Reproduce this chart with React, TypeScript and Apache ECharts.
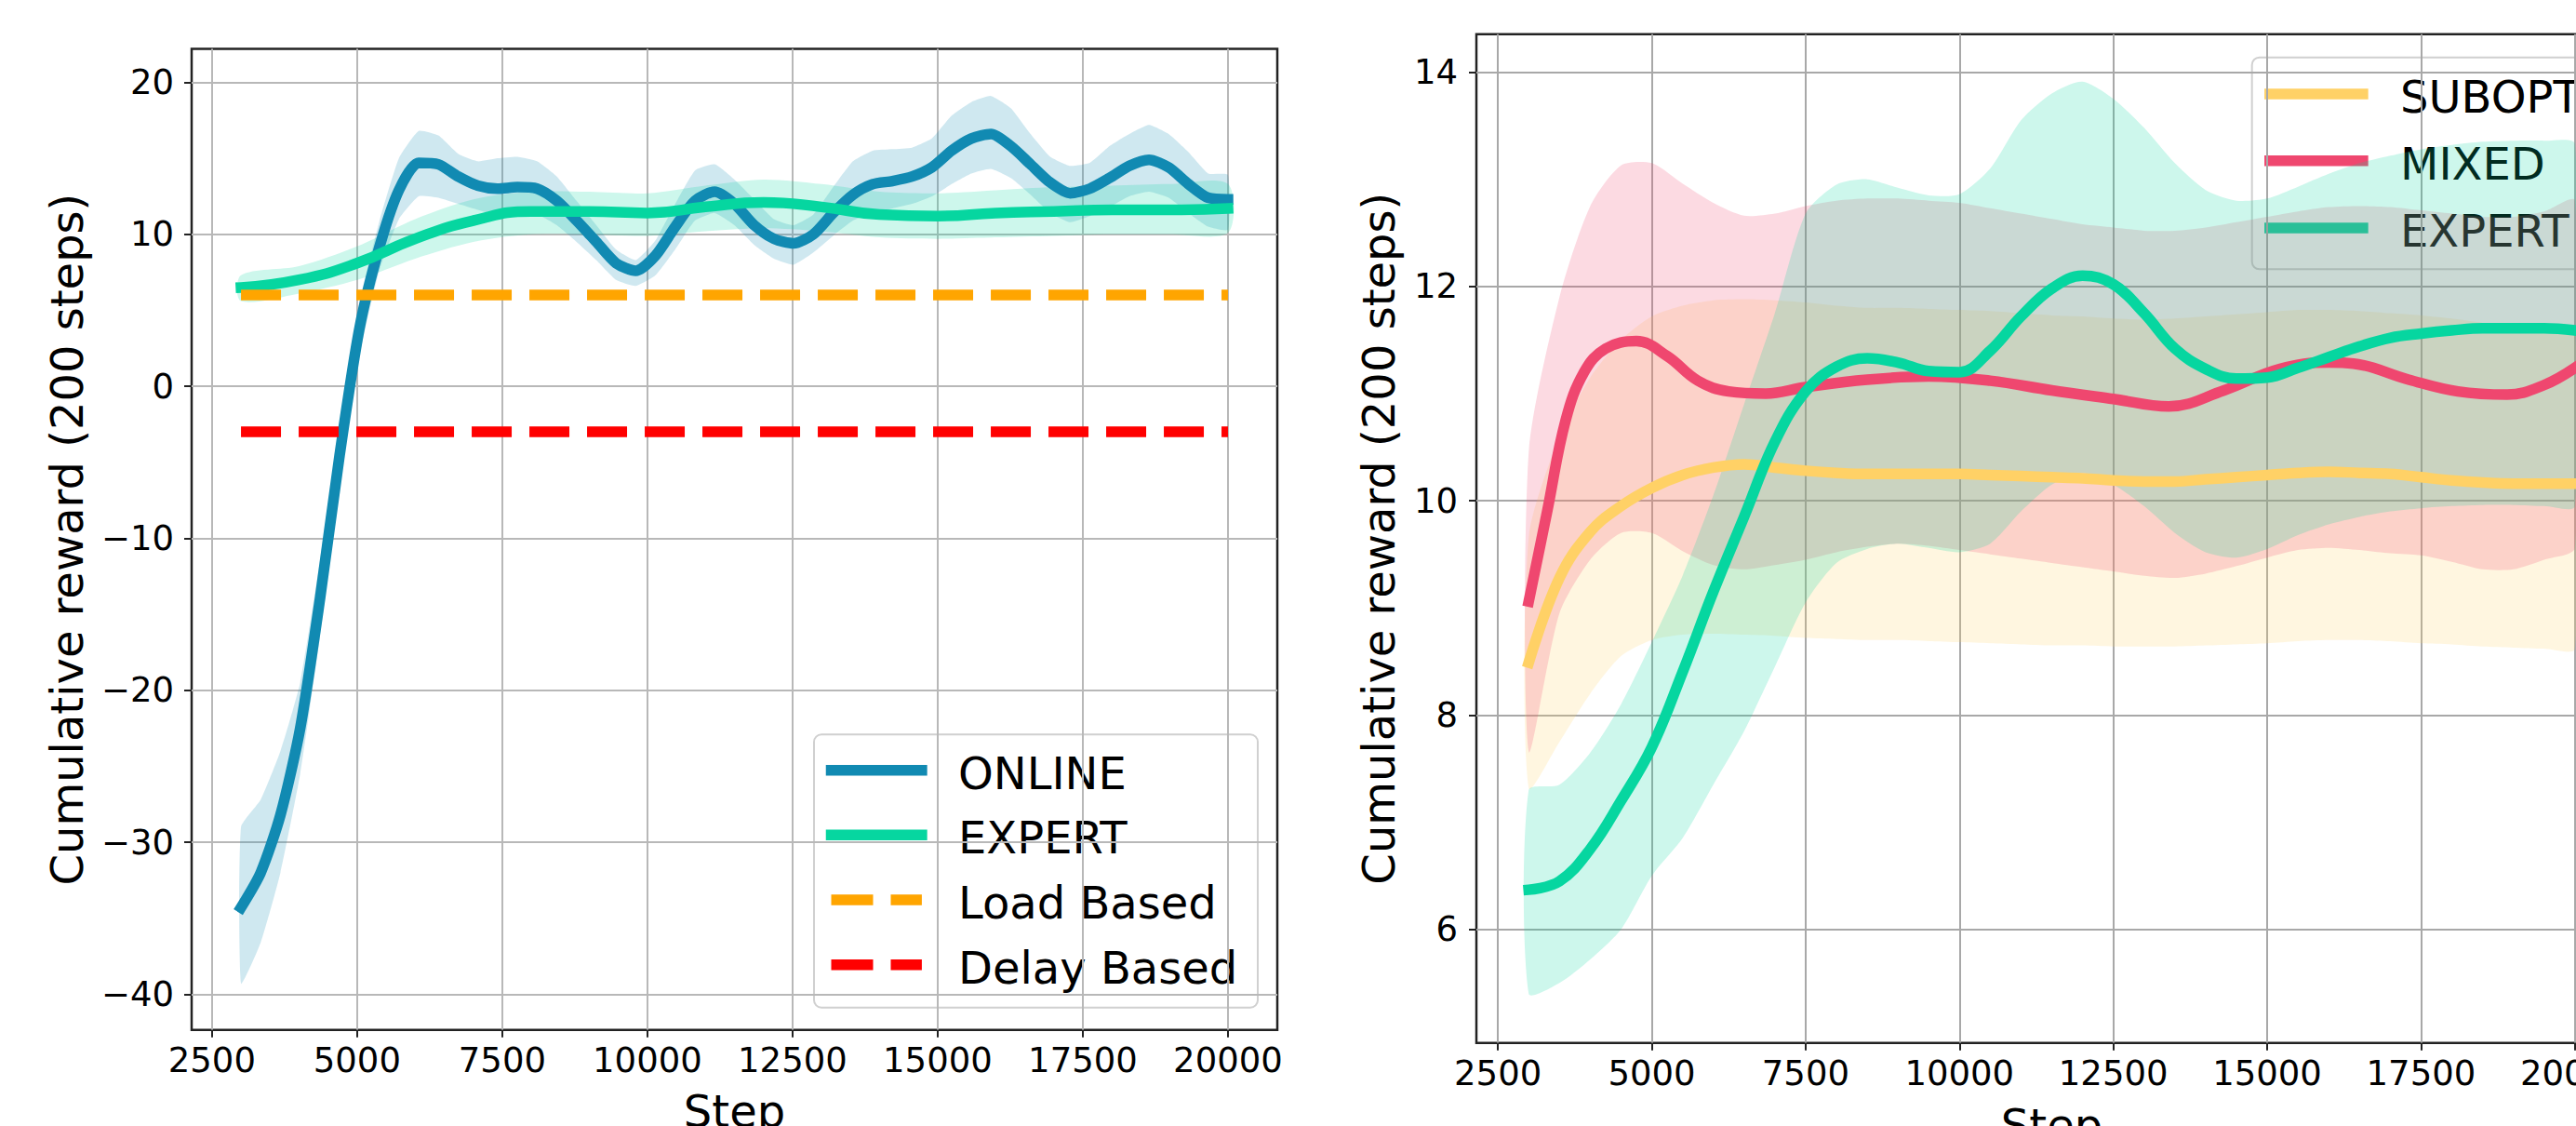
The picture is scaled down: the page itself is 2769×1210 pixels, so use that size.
import React, { useEffect, useRef } from "react";
import * as echarts from "echarts";

// ---------- LEFT PANEL DATA ----------
const onlineSteps = [3000, 3340, 3680, 4020, 4360, 4700, 5040, 5380, 5720, 6060, 6400, 6740, 7080, 7420, 7760, 8100, 8440, 8780, 9120, 9460, 9800, 10140, 10480, 10820, 11160, 11500, 11840, 12180, 12520, 12860, 13200, 13540, 13880, 14220, 14560, 14900, 15240, 15580, 15920, 16260, 16600, 16940, 17280, 17620, 17960, 18300, 18640, 18980, 19320, 19660, 20000];
const onlineMean = [-34.3, -32.0, -28.2, -22.5, -14.0, -4.5, 3.8, 9.1, 12.9, 14.7, 14.6, 13.8, 13.2, 13.0, 13.1, 13.0, 12.2, 10.9, 9.5, 8.1, 7.6, 8.6, 10.5, 12.2, 12.8, 12.0, 10.6, 9.7, 9.4, 10.0, 11.4, 12.6, 13.3, 13.5, 13.8, 14.4, 15.5, 16.3, 16.6, 15.8, 14.6, 13.4, 12.7, 13.0, 13.7, 14.5, 14.9, 14.4, 13.3, 12.4, 12.3];
const onlineHigh = [-29.0, -27.2, -24.0, -19.5, -11.5, -2.5, 5.5, 10.8, 15.0, 16.8, 16.5, 15.3, 14.8, 15.0, 15.1, 14.8, 13.8, 12.2, 10.6, 9.0, 8.3, 9.6, 12.0, 14.2, 14.6, 13.6, 12.3, 11.0, 10.6, 11.3, 13.1, 14.8, 15.5, 15.6, 15.7, 16.3, 17.8, 18.7, 19.1, 18.3, 16.6, 15.1, 14.5, 14.7, 15.8, 16.6, 17.2, 16.6, 15.4, 14.0, 13.9];
const onlineLow = [-39.3, -36.6, -32.0, -25.5, -16.5, -6.5, 2.0, 7.6, 11.0, 12.5, 12.4, 12.0, 11.6, 11.2, 11.2, 11.3, 10.6, 9.5, 8.3, 7.0, 6.6, 7.3, 9.0, 10.9, 11.4, 10.6, 9.3, 8.4, 8.0, 8.8, 9.9, 10.9, 11.4, 11.7, 12.0, 12.5, 13.3, 14.0, 14.3, 13.7, 12.6, 11.4, 10.8, 11.2, 11.8, 12.5, 12.8, 12.4, 11.4, 10.5, 10.3];

const expertLSteps = [3000, 4000, 5000, 6000, 7000, 8000, 9000, 10000, 11000, 12000, 13000, 14000, 15000, 16000, 17000, 18000, 19000, 20000];
const expertLMean = [6.5, 7.0, 8.1, 9.7, 10.9, 11.5, 11.5, 11.4, 11.8, 12.1, 11.8, 11.3, 11.2, 11.4, 11.5, 11.6, 11.6, 11.7];
const expertLHigh = [7.3, 7.9, 9.2, 11.0, 12.3, 12.8, 12.8, 12.7, 13.2, 13.6, 13.3, 12.8, 12.7, 12.9, 13.1, 13.2, 13.3, 13.3];
const expertLLow = [5.6, 6.1, 7.0, 8.4, 9.5, 10.0, 10.0, 9.9, 10.2, 10.4, 10.2, 9.8, 9.7, 9.8, 9.9, 10.0, 10.0, 10.1];

const baselineSteps = [3000, 20000];
const loadBased = [6, 6];
const delayBased = [-3, -3];

const leftXTicks = [2500, 5000, 7500, 10000, 12500, 15000, 17500, 20000];
const leftYTicks = [-40, -30, -20, -10, 0, 10, 20];

// ---------- RIGHT PANEL DATA ----------
const rSteps = [3000, 3500, 4000, 4500, 5000, 5500, 6000, 6500, 7000, 7500, 8000, 8500, 9000, 9500, 10000, 10500, 11000, 11500, 12000, 12500, 13000, 13500, 14000, 14500, 15000, 15500, 16000, 16500, 17000, 17500, 18000, 18500, 19000, 19500, 20000];

const subMean = [8.49, 9.28, 9.71, 9.95, 10.12, 10.24, 10.31, 10.34, 10.31, 10.28, 10.26, 10.25, 10.25, 10.25, 10.25, 10.24, 10.23, 10.22, 10.21, 10.19, 10.18, 10.18, 10.2, 10.22, 10.24, 10.26, 10.27, 10.26, 10.25, 10.22, 10.19, 10.17, 10.16, 10.16, 10.16];
const subHigh = [9.66, 10.6, 11.15, 11.5, 11.72, 11.82, 11.87, 11.88, 11.87, 11.85, 11.82, 11.8, 11.8, 11.79, 11.78, 11.77, 11.75, 11.73, 11.72, 11.7, 11.69, 11.7, 11.72, 11.74, 11.76, 11.78, 11.78, 11.77, 11.75, 11.73, 11.7, 11.66, 11.62, 11.59, 11.56];
const subLow = [7.32, 7.75, 8.2, 8.55, 8.7, 8.75, 8.76, 8.75, 8.74, 8.72, 8.71, 8.7, 8.7, 8.69, 8.68, 8.67, 8.66, 8.65, 8.65, 8.64, 8.64, 8.64, 8.65, 8.66, 8.67, 8.69, 8.7, 8.7, 8.69, 8.67, 8.66, 8.64, 8.63, 8.62, 8.62];

const mixSteps = [3000, 3300, 3600, 3900, 4250, 4750, 5250, 5750, 6250, 6850, 7500, 8500, 9500, 10500, 11500, 12500, 13400, 14300, 15200, 16000, 16400, 17300, 18100, 18900, 19500, 20000];
const mixMean = [9.06, 9.9, 10.75, 11.2, 11.42, 11.49, 11.35, 11.12, 11.02, 11.0, 11.06, 11.13, 11.16, 11.12, 11.03, 10.95, 10.88, 11.03, 11.23, 11.29, 11.28, 11.13, 11.02, 10.99, 11.08, 11.24];
const mixHigh = [10.45, 11.9, 12.75, 13.13, 13.15, 12.96, 12.78, 12.66, 12.68, 12.75, 12.8, 12.82, 12.82, 12.8, 12.78, 12.73, 12.68, 12.63, 12.58, 12.55, 12.52, 12.52, 12.55, 12.6, 12.65, 12.7, 12.74, 12.75, 12.74, 12.71, 12.68, 12.65, 12.65, 12.7, 12.8];
const mixLow = [7.66, 8.95, 9.45, 9.7, 9.7, 9.53, 9.4, 9.36, 9.4, 9.45, 9.52, 9.57, 9.6, 9.58, 9.54, 9.5, 9.46, 9.42, 9.38, 9.34, 9.3, 9.28, 9.32, 9.39, 9.47, 9.54, 9.56, 9.54, 9.51, 9.49, 9.43, 9.36, 9.36, 9.45, 9.56];

const expRMean = [6.37, 6.45, 6.75, 7.2, 7.7, 8.4, 9.15, 9.85, 10.55, 11.02, 11.25, 11.33, 11.29, 11.21, 11.2, 11.4, 11.72, 11.98, 12.1, 12.02, 11.75, 11.42, 11.23, 11.14, 11.15, 11.24, 11.34, 11.44, 11.52, 11.56, 11.59, 11.61, 11.61, 11.61, 11.59];
const expRHigh = [7.3, 7.35, 7.65, 8.1, 8.68, 9.3, 10.05, 10.9, 11.75, 12.68, 12.95, 13.0, 12.92, 12.85, 12.86, 13.1, 13.55, 13.8, 13.91, 13.75, 13.48, 13.15, 12.9, 12.8, 12.82, 12.93, 13.05, 13.15, 13.22, 13.28, 13.32, 13.35, 13.36, 13.36, 13.33];
const expRLow = [5.4, 5.5, 5.72, 6.0, 6.5, 6.85, 7.35, 7.85, 8.45, 9.05, 9.42, 9.55, 9.6, 9.56, 9.52, 9.6, 9.9, 10.15, 10.26, 10.15, 9.95, 9.7, 9.52, 9.47, 9.55, 9.68, 9.78, 9.85, 9.9, 9.93, 9.95, 9.96, 9.96, 9.95, 9.95];

const rightXTicks = [2500, 5000, 7500, 10000, 12500, 15000, 17500, 20000];
const rightYTicks = [6, 8, 10, 12, 14];

const leftLegend = ["ONLINE", "EXPERT", "Load Based", "Delay Based"];
const rightLegend = ["SUBOPTIMAL", "MIXED", "EXPERT"];

// ---------- COLOURS ----------
const C_ONLINE = "#118AB2";
const C_EXPERT = "#06D6A0";
const C_LOAD = "#FFA500";
const C_DELAY = "#FF0000";
const C_SUB = "#FFD166";
const C_MIX = "#EF476F";

const FONT = "DejaVu Sans";

const zip = (xs: number[], ys: number[]) => xs.map((x, i) => [x, ys[i]]);
const fmtMinus = (v: number) => String(v).replace("-", "\u2212");

function hexToRgba(hex: string, a: number) {
  const n = parseInt(hex.slice(1), 16);
  return `rgba(${(n >> 16) & 255},${(n >> 8) & 255},${n & 255},${a})`;
}

// Shaded band drawn as one polygon through the axis scales (api.coord)
function bandSeries(id: string, axes: any, xs: number[], lo: number[], hi: number[], color: string, alpha: number, smooth: number) {
  return {
    id, type: "custom", ...axes, silent: true, clip: true,
    data: xs.map((x, i) => [x, lo[i], hi[i]]),
    encode: { x: 0, y: [1, 2] },
    renderItem: (params: any, api: any) => {
      if (params.dataIndex !== 0) return { type: "group", children: [] };
      const top = xs.map((x, i) => api.coord([x, hi[i]]));
      const bot = xs.map((x, i) => api.coord([x, lo[i]])).reverse();
      return {
        type: "polygon",
        shape: { points: top.concat(bot), smooth },
        style: { fill: hexToRgba(color, alpha), stroke: "none" },
      };
    },
  };
}

function lineSeries(id: string, axes: any, xs: number[], ys: number[], color: string, smooth: any, dashed = false) {
  return {
    id, type: "line", ...axes, data: zip(xs, ys), smooth, symbol: "none", silent: true,
    lineStyle: dashed
      ? { color, width: 11.5, type: [43, 19], cap: "butt" }
      : { color, width: 11.5, cap: "square", join: "round" },
  };
}

function xAxisCfg(gridIndex: number, min: number, max: number, ticks: number[], gridColor: string, margin: number, nameGap: number) {
  return {
    type: "value", gridIndex, min, max, position: "bottom",
    name: "Step", nameLocation: "middle", nameGap,
    nameTextStyle: { fontSize: 48, color: "#000", fontFamily: FONT },
    axisLine: { show: false, onZero: false },
    axisTick: { show: true, length: 8, lineStyle: { color: "#222", width: 2 }, customValues: ticks },
    axisLabel: { customValues: ticks, fontSize: 37, color: "#000", margin, fontFamily: FONT, formatter: (v: number) => fmtMinus(v) },
    splitLine: { show: true, lineStyle: { color: gridColor, width: 2 } },
  };
}

function yAxisCfg(gridIndex: number, min: number, max: number, ticks: number[], gridColor: string, nameGap: number, margin: number) {
  return {
    type: "value", gridIndex, min, max, position: "left",
    name: "Cumulative reward (200 steps)", nameLocation: "middle", nameGap,
    nameTextStyle: { fontSize: 48, color: "#000", fontFamily: FONT },
    axisLine: { show: false, onZero: false },
    axisTick: { show: true, length: 8, lineStyle: { color: "#222", width: 2 }, customValues: ticks },
    axisLabel: { customValues: ticks, fontSize: 37, color: "#000", margin, fontFamily: FONT, formatter: (v: number) => fmtMinus(v) },
    splitLine: { show: true, lineStyle: { color: gridColor, width: 2 } },
  };
}

function legendGraphic(x: number, y: number, w: number, h: number, rowY: number[], handleX1: number, handleX2: number, textX: number, labels: string[], colors: string[], dashed: boolean[]) {
  const children: any[] = [
    {
      type: "rect", shape: { x, y, width: w, height: h, r: 8 },
      style: { fill: "rgba(255,255,255,0.8)", stroke: "#d0d0d0", lineWidth: 2 },
    },
  ];
  labels.forEach((lab, i) => {
    const yy = rowY[i];
    if (dashed[i]) {
      children.push({
        type: "line", shape: { x1: handleX1 + 5.8, y1: yy, x2: handleX2 - 5.8, y2: yy },
        style: { stroke: colors[i], lineWidth: 11.5, lineDash: [45, 19], lineCap: "butt" },
      });
    } else {
      children.push({
        type: "line", shape: { x1: handleX1 + 5.8, y1: yy, x2: handleX2 - 5.8, y2: yy },
        style: { stroke: colors[i], lineWidth: 11.5, lineCap: "square" },
      });
    }
    children.push({
      type: "text", x: textX, y: yy + 3,
      style: { text: lab, fontSize: 48, fontFamily: FONT, fill: "#000", textAlign: "left", textVerticalAlign: "middle" },
    });
  });
  return { type: "group", z: 100, children };
}

export default function App() {
  const ref = useRef<HTMLDivElement>(null);
  useEffect(() => {
    document.body.style.margin = "0";
    if (!ref.current) return;
    const chart = echarts.init(ref.current, null, { renderer: "svg" });
    const L = { xAxisIndex: 0, yAxisIndex: 0 };
    const R = { xAxisIndex: 1, yAxisIndex: 1 };
    const option: any = {
      animation: false,
      backgroundColor: "#ffffff",
      textStyle: { fontFamily: FONT },
      grid: [
        { left: 206, top: 52.5, width: 1167, height: 1054.2, show: true, borderColor: "#222", borderWidth: 2.5, backgroundColor: "transparent", containLabel: false, outerBoundsMode: "none" },
        { left: 1587, top: 36.7, width: 1237, height: 1084, show: true, borderColor: "#222", borderWidth: 2.5, backgroundColor: "transparent", containLabel: false, outerBoundsMode: "none" },
      ],
      xAxis: [
        xAxisCfg(0, 2150, 20850, leftXTicks, "#b8b8b8", 14, 63),
        xAxisCfg(1, 2150, 20850, rightXTicks, "#a8a8a8", 14, 64),
      ],
      yAxis: [
        yAxisCfg(0, -42.35, 22.2, leftYTicks, "#b8b8b8", 110, 19),
        yAxisCfg(1, 4.941, 14.354, rightYTicks, "#a8a8a8", 81, 20),
      ],
      series: [
        bandSeries("onlineBand", L, onlineSteps, onlineLow, onlineHigh, C_ONLINE, 0.2, 0.15),
        lineSeries("online", L, onlineSteps, onlineMean, C_ONLINE, 0.25),
        bandSeries("expertLBand", L, expertLSteps, expertLLow, expertLHigh, C_EXPERT, 0.2, 0.3),
        lineSeries("expertL", L, expertLSteps, expertLMean, C_EXPERT, 0.5),
        lineSeries("load", L, baselineSteps, loadBased, C_LOAD, false, true),
        lineSeries("delay", L, baselineSteps, delayBased, C_DELAY, false, true),

        bandSeries("subBand", R, rSteps, subLow, subHigh, C_SUB, 0.2, 0.25),
        lineSeries("sub", R, rSteps, subMean, C_SUB, 0.4),
        bandSeries("mixBand", R, rSteps, mixLow, mixHigh, C_MIX, 0.2, 0.25),
        lineSeries("mix", R, mixSteps, mixMean, C_MIX, 0.4),
        bandSeries("expRBand", R, rSteps, expRLow, expRHigh, C_EXPERT, 0.2, 0.25),
        lineSeries("expR", R, rSteps, expRMean, C_EXPERT, 0.4),
      ],
      graphic: [
        legendGraphic(875, 789.3, 477, 293.4, [827.7, 897.3, 967, 1036.7], 887.7, 996.7, 1030, leftLegend,
          [C_ONLINE, C_EXPERT, C_LOAD, C_DELAY], [false, false, true, true]),
        legendGraphic(2420.7, 61.7, 490, 227.6, [101, 172.7, 245], 2434, 2545.7, 2580, rightLegend,
          [C_SUB, C_MIX, C_EXPERT], [false, false, false]),
      ],
    };
    chart.setOption(option);
    return () => chart.dispose();
  }, []);
  return <div ref={ref} style={{ width: 2769, height: 1210, overflow: "hidden" }} />;
}
